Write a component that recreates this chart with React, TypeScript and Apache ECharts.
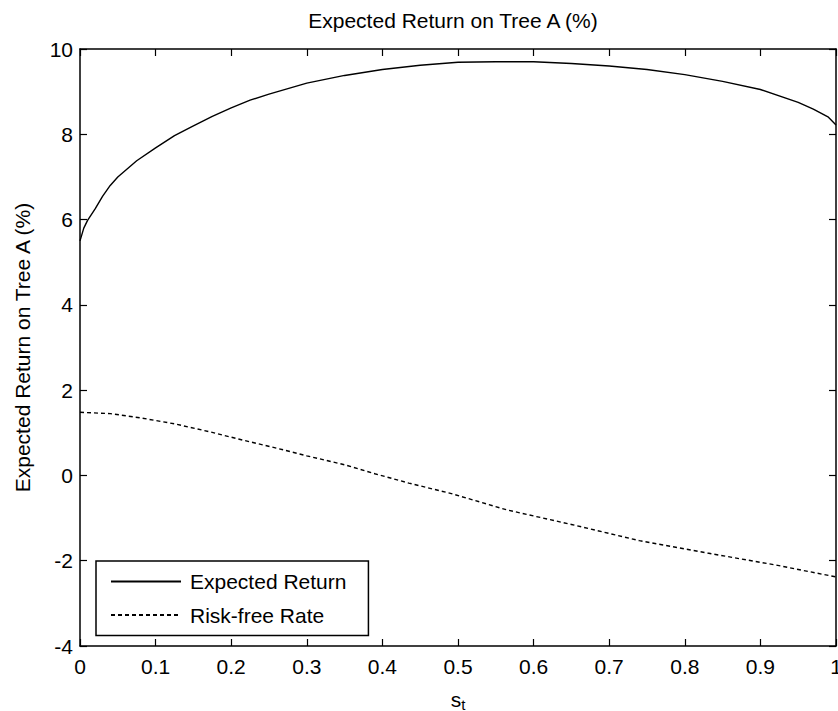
import React, { useEffect, useRef } from "react";
import * as echarts from "echarts";

const FONT = "'Liberation Sans', Arial, Helvetica, sans-serif";

const titleText = "Expected Return on Tree A (%)";
const yAxisTitle = "Expected Return on Tree A (%)";
const seriesNames = ["Expected Return", "Risk-free Rate"];

const expectedS = [0, 0.005, 0.01, 0.02, 0.03, 0.04, 0.05, 0.075, 0.1, 0.125, 0.15, 0.175, 0.2, 0.225, 0.25, 0.3, 0.35, 0.4, 0.45, 0.5, 0.55, 0.6, 0.65, 0.7, 0.75, 0.8, 0.85, 0.9, 0.95, 0.97, 0.99, 1.0];
const expectedReturn = [5.5, 5.8, 5.98, 6.25, 6.55, 6.8, 7.0, 7.38, 7.68, 7.97, 8.2, 8.42, 8.62, 8.8, 8.94, 9.2, 9.38, 9.52, 9.62, 9.69, 9.7, 9.7, 9.66, 9.6, 9.52, 9.4, 9.24, 9.05, 8.75, 8.59, 8.4, 8.22];

const riskFreeS = [0, 0.04, 0.08, 0.125, 0.17, 0.215, 0.26, 0.3, 0.35, 0.39, 0.435, 0.49, 0.565, 0.65, 0.74, 0.83, 0.92, 1.0];
const riskFreeRate = [1.48, 1.45, 1.35, 1.21, 1.03, 0.83, 0.64, 0.46, 0.25, 0.04, -0.18, -0.42, -0.81, -1.15, -1.53, -1.82, -2.1, -2.38];

const xMin = 0, xMax = 1, xStep = 0.1;
const yMin = -4, yMax = 10, yStep = 2;

export default function App() {
  const ref = useRef<HTMLDivElement>(null);
  useEffect(() => {
    if (!ref.current) return;
    const chart = echarts.init(ref.current, undefined, { renderer: "svg" });
    const axisLine = { show: true, onZero: false, lineStyle: { color: "#000", width: 1.5 } };
    const tick = { show: true, inside: true, length: 7, lineStyle: { color: "#000", width: 1.2 } };
    const FS = 21;
    chart.setOption({
      animation: false,
      backgroundColor: "#fff",
      textStyle: { fontFamily: FONT, color: "#000" },
      title: {
        text: titleText,
        left: 453,
        textAlign: "center",
        top: 10,
        padding: 0,
        textStyle: { fontFamily: FONT, fontSize: FS, fontWeight: "normal", color: "#000" },
      },
      legend: {
        left: 96,
        top: 561,
        orient: "vertical",
        data: seriesNames,
        itemWidth: 70,
        itemHeight: 14,
        itemGap: 12.6,
        padding: [10, 22, 10, 14],
        borderColor: "#000",
        borderWidth: 1.5,
        backgroundColor: "#fff",
        itemStyle: { opacity: 0 },
        textStyle: { fontFamily: FONT, fontSize: FS, color: "#000", lineHeight: 20, padding: [0, 0, 0, 4] },
      },
      grid: { left: 80, right: 2, top: 49, bottom: 65, containLabel: false, outerBoundsMode: "none" },
      xAxis: [
        {
          type: "value",
          min: xMin,
          max: xMax,
          interval: xStep,
          position: "bottom",
          axisLine,
          axisTick: tick,
          splitLine: { show: false },
          axisLabel: { fontFamily: FONT, fontSize: FS, color: "#000", margin: 10 },
          name: "{s|s}{t|t}",
          nameLocation: "middle",
          nameGap: 42,
          nameTextStyle: {
            rich: {
              s: { fontFamily: FONT, fontSize: FS, color: "#000", verticalAlign: "bottom", lineHeight: 22 },
              t: { fontFamily: FONT, fontSize: 15, color: "#000", padding: [10, 0, 0, 0], lineHeight: 22 },
            },
          },
        },
        {
          type: "value",
          min: xMin,
          max: xMax,
          interval: xStep,
          position: "top",
          axisLine,
          axisTick: tick,
          splitLine: { show: false },
          axisLabel: { show: false },
        },
      ],
      yAxis: [
        {
          type: "value",
          min: yMin,
          max: yMax,
          interval: yStep,
          position: "left",
          axisLine,
          axisTick: tick,
          splitLine: { show: false },
          axisLabel: { fontFamily: FONT, fontSize: FS, color: "#000", margin: 7 },
          name: yAxisTitle,
          nameLocation: "middle",
          nameGap: 47,
          nameTextStyle: { fontFamily: FONT, fontSize: FS, color: "#000" },
        },
        {
          type: "value",
          min: yMin,
          max: yMax,
          interval: yStep,
          position: "right",
          axisLine,
          axisTick: tick,
          splitLine: { show: false },
          axisLabel: { show: false },
        },
      ],
      series: [
        {
          name: seriesNames[0],
          type: "line",
          symbol: "none",
          showSymbol: false,
          data: expectedS.map((s, i) => [s, expectedReturn[i]]),
          lineStyle: { color: "#000", width: 1.4, type: "solid" },
          itemStyle: { color: "#000" },
        },
        {
          name: seriesNames[1],
          type: "line",
          symbol: "none",
          showSymbol: false,
          data: riskFreeS.map((s, i) => [s, riskFreeRate[i]]),
          lineStyle: { color: "#000", width: 1.4, type: [4, 3] },
          itemStyle: { color: "#000" },
        },
      ],
    });
    return () => chart.dispose();
  }, []);
  return (
    <div
      ref={ref}
      style={{ position: "absolute", left: 0, top: 0, width: 838, height: 711, background: "#fff" }}
    />
  );
}
